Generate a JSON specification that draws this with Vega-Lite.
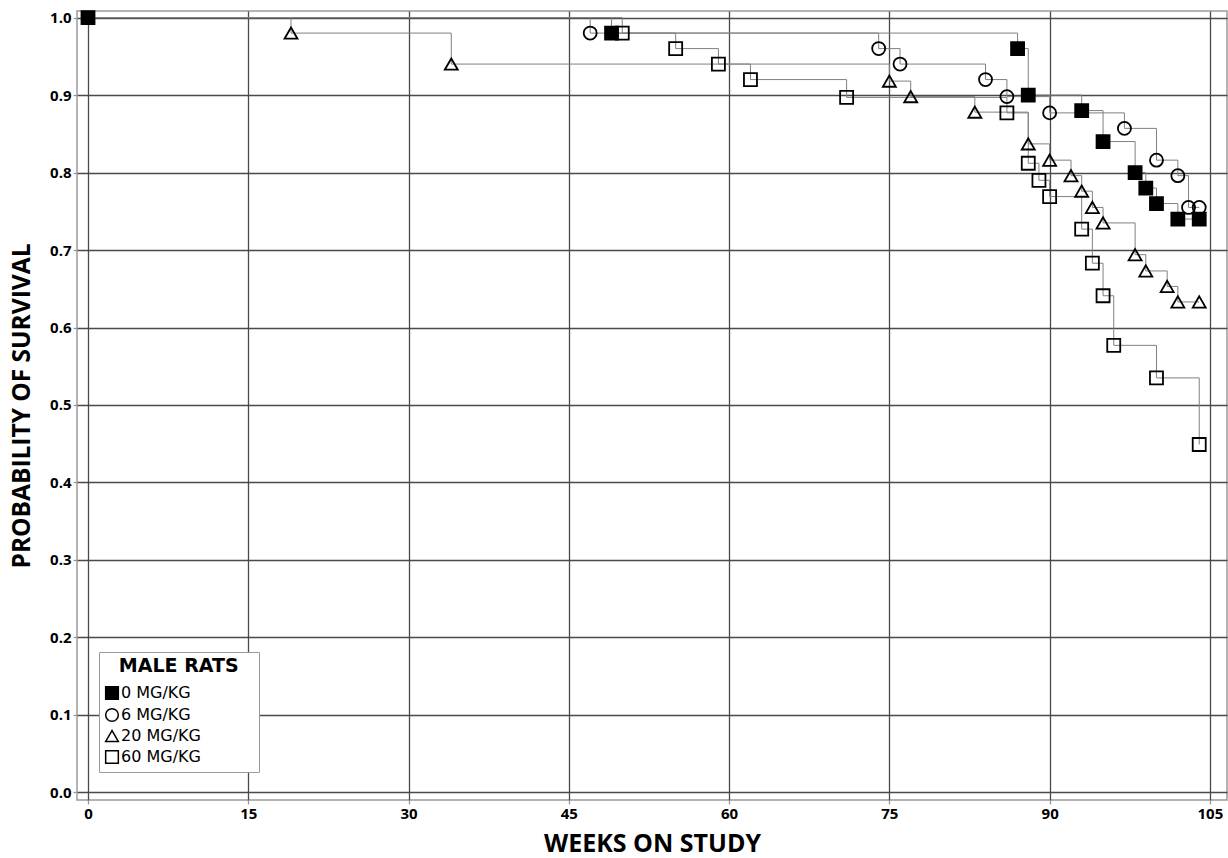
{
  "$schema": "https://vega.github.io/schema/vega-lite/v6.json",
  "width": 1150,
  "height": 789,
  "autosize": "none",
  "padding": {"left": 77, "top": 11, "right": 1, "bottom": 58},
  "background": "white",
  "config": {
    "view": {"stroke": "#9a9a9a", "strokeWidth": 1.5},
    "font": "Open Sans",
    "axis": {
      "grid": true,
      "gridColor": "#4a4a4a",
      "gridWidth": 1.3,
      "domain": false,
      "tickSize": 4,
      "tickColor": "#999999",
      "tickWidth": 1.3,
      "labelFont": "Open Sans",
      "labelFontWeight": "bold",
      "labelFontSize": 15,
      "labelColor": "black",
      "labelPadding": 2,
      "titleFont": "Open Sans",
      "titleFontWeight": "bold",
      "titleFontSize": 25,
      "titleColor": "black"
    },
    "legend": {
      "orient": "none",
      "legendX": 22,
      "legendY": 641,
      "strokeColor": "#9a9a9a",
      "fillColor": "white",
      "padding": 5,
      "titleFont": "DejaVu Sans",
      "titleFontSize": 19,
      "titleFontWeight": "bold",
      "titleColor": "black",
      "titleAnchor": "start",
      "titlePadding": 9,
      "labelFont": "DejaVu Sans",
      "labelFontSize": 16,
      "labelColor": "black",
      "labelOffset": 1,
      "symbolSize": 160,
      "rowPadding": 2
    }
  },
  "data": {
    "values": [
      {"dose": "6 MG/KG", "week": 0, "surv": 1.0},
      {"dose": "6 MG/KG", "week": 47, "surv": 0.98},
      {"dose": "6 MG/KG", "week": 74, "surv": 0.96},
      {"dose": "6 MG/KG", "week": 76, "surv": 0.94},
      {"dose": "6 MG/KG", "week": 84, "surv": 0.92},
      {"dose": "6 MG/KG", "week": 86, "surv": 0.898},
      {"dose": "6 MG/KG", "week": 90, "surv": 0.877},
      {"dose": "6 MG/KG", "week": 97, "surv": 0.857},
      {"dose": "6 MG/KG", "week": 100, "surv": 0.816},
      {"dose": "6 MG/KG", "week": 102, "surv": 0.796},
      {"dose": "6 MG/KG", "week": 103, "surv": 0.755},
      {"dose": "6 MG/KG", "week": 104, "surv": 0.755},
      {"dose": "20 MG/KG", "week": 0, "surv": 1.0},
      {"dose": "20 MG/KG", "week": 19, "surv": 0.98},
      {"dose": "20 MG/KG", "week": 34, "surv": 0.94},
      {"dose": "20 MG/KG", "week": 75, "surv": 0.918},
      {"dose": "20 MG/KG", "week": 77, "surv": 0.898},
      {"dose": "20 MG/KG", "week": 83, "surv": 0.878},
      {"dose": "20 MG/KG", "week": 88, "surv": 0.837},
      {"dose": "20 MG/KG", "week": 90, "surv": 0.816},
      {"dose": "20 MG/KG", "week": 92, "surv": 0.796},
      {"dose": "20 MG/KG", "week": 93, "surv": 0.776},
      {"dose": "20 MG/KG", "week": 94, "surv": 0.755},
      {"dose": "20 MG/KG", "week": 95, "surv": 0.735},
      {"dose": "20 MG/KG", "week": 98, "surv": 0.694},
      {"dose": "20 MG/KG", "week": 99, "surv": 0.673},
      {"dose": "20 MG/KG", "week": 101, "surv": 0.653},
      {"dose": "20 MG/KG", "week": 102, "surv": 0.633},
      {"dose": "20 MG/KG", "week": 104, "surv": 0.633},
      {"dose": "60 MG/KG", "week": 0, "surv": 1.0},
      {"dose": "60 MG/KG", "week": 50, "surv": 0.98},
      {"dose": "60 MG/KG", "week": 55, "surv": 0.96},
      {"dose": "60 MG/KG", "week": 59, "surv": 0.94},
      {"dose": "60 MG/KG", "week": 62, "surv": 0.92},
      {"dose": "60 MG/KG", "week": 71, "surv": 0.897},
      {"dose": "60 MG/KG", "week": 86, "surv": 0.877},
      {"dose": "60 MG/KG", "week": 88, "surv": 0.812},
      {"dose": "60 MG/KG", "week": 89, "surv": 0.79},
      {"dose": "60 MG/KG", "week": 90, "surv": 0.769},
      {"dose": "60 MG/KG", "week": 93, "surv": 0.727},
      {"dose": "60 MG/KG", "week": 94, "surv": 0.683},
      {"dose": "60 MG/KG", "week": 95, "surv": 0.641},
      {"dose": "60 MG/KG", "week": 96, "surv": 0.577},
      {"dose": "60 MG/KG", "week": 100, "surv": 0.535},
      {"dose": "60 MG/KG", "week": 104, "surv": 0.449},
      {"dose": "0 MG/KG", "week": 0, "surv": 1.0},
      {"dose": "0 MG/KG", "week": 49, "surv": 0.98},
      {"dose": "0 MG/KG", "week": 87, "surv": 0.96},
      {"dose": "0 MG/KG", "week": 88, "surv": 0.9},
      {"dose": "0 MG/KG", "week": 93, "surv": 0.88},
      {"dose": "0 MG/KG", "week": 95, "surv": 0.84},
      {"dose": "0 MG/KG", "week": 98, "surv": 0.8},
      {"dose": "0 MG/KG", "week": 99, "surv": 0.78},
      {"dose": "0 MG/KG", "week": 100, "surv": 0.76},
      {"dose": "0 MG/KG", "week": 102, "surv": 0.74},
      {"dose": "0 MG/KG", "week": 104, "surv": 0.74}
    ]
  },
  "encoding": {
    "x": {
      "field": "week",
      "type": "quantitative",
      "scale": {"domain": [-1.03, 106.6], "nice": false, "zero": false},
      "axis": {"values": [0, 15, 30, 45, 60, 75, 90, 105], "title": "WEEKS ON STUDY", "titlePadding": 10}
    },
    "y": {
      "field": "surv",
      "type": "quantitative",
      "scale": {"domain": [-0.0098, 1.0085], "nice": false, "zero": false},
      "axis": {"values": [0, 0.1, 0.2, 0.3, 0.4, 0.5, 0.6, 0.7, 0.8, 0.9, 1.0], "format": ".1f", "title": "PROBABILITY OF SURVIVAL", "titlePadding": 15, "titleFontSize": 24.5}
    }
  },
  "layer": [
    {
      "mark": {"type": "line", "interpolate": "step-after", "stroke": "#808080", "strokeWidth": 1},
      "encoding": {"detail": {"field": "dose"}}
    },
    {
      "transform": [{"filter": "datum.week > 0 || datum.dose === '0 MG/KG'"}],
      "mark": {"type": "point", "size": 169, "stroke": "black", "strokeWidth": 1.8, "opacity": 1},
      "encoding": {
        "shape": {
          "field": "dose",
          "type": "nominal",
          "scale": {"domain": ["0 MG/KG", "6 MG/KG", "20 MG/KG", "60 MG/KG"], "range": ["square", "circle", "triangle-up", "square"]},
          "legend": {
            "title": "\u2800MALE RATS\u2800",
            "encode": {"symbols": {"update": {"stroke": {"value": "black"}, "strokeWidth": {"value": 1.5}, "opacity": {"value": 1}}}}
          }
        },
        "fill": {
          "field": "dose",
          "type": "nominal",
          "scale": {"domain": ["0 MG/KG", "6 MG/KG", "20 MG/KG", "60 MG/KG"], "range": ["black", "transparent", "transparent", "transparent"]},
          "legend": {
            "title": "\u2800MALE RATS\u2800",
            "encode": {"symbols": {"update": {"stroke": {"value": "black"}, "strokeWidth": {"value": 1.5}, "opacity": {"value": 1}}}}
          }
        }
      }
    }
  ]
}
